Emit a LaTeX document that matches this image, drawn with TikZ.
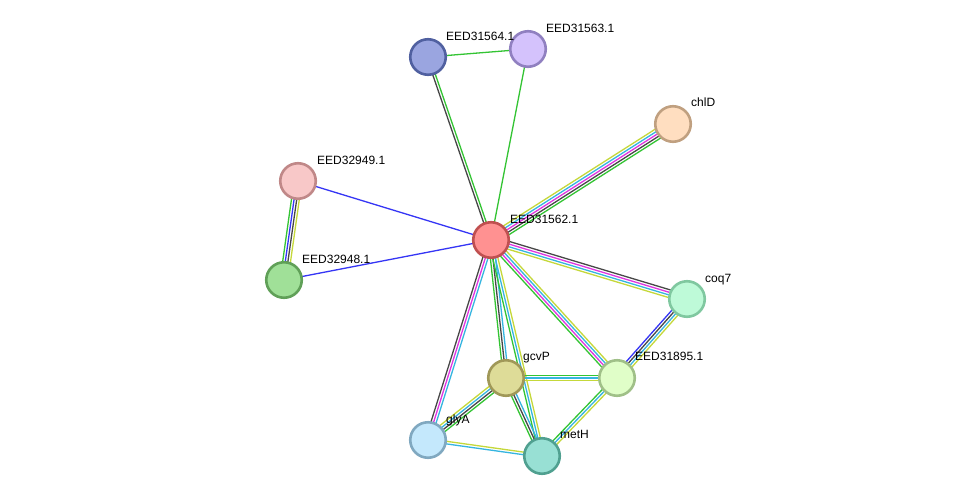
\documentclass[tikz,border=0pt]{standalone}
\usepackage{fontspec}
\setmainfont{Liberation Sans}
\usetikzlibrary{calc}
\pgfdeclarelayer{background}
\pgfsetlayers{background,main}
\definecolor{sgreen}{HTML}{33C433}
\definecolor{sblue}{HTML}{3535F5}
\definecolor{sdark}{HTML}{474747}
\definecolor{smag}{HTML}{E035E0}
\definecolor{scyan}{HTML}{35B5E0}
\definecolor{syel}{HTML}{C5D83A}
\tikzset{
  prot/.style={circle, minimum size=35.5pt, inner sep=0pt, line width=2.6pt},
  lbl/.style={anchor=base west, font=\fontsize{12}{14}\selectfont, inner sep=0pt},
  evid/.style={line width=1.3pt},
}
\newcommand\sedge[4]{%
  \foreach \c [count=\i] in {#4} {
    \pgfmathsetmacro\off{(\i-1-(#3-1)/2)*2.6}
    \draw[evid, \c] ($(#1)!\off pt!90:(#2)$) -- ($(#2)!\off pt!-90:(#1)$);
  }%
}
\begin{document}
\begin{tikzpicture}[x=1pt,y=1pt]
\useasboundingbox (0,0) rectangle (975,-501);
% nodes
\node[prot, draw={rgb,255:red,192;green,80;blue,80}, fill={rgb,255:red,255;green,145;blue,145}] (c) at (491,-240) {};
\node[prot, draw={rgb,255:red,80;green,96;blue,160}, fill={rgb,255:red,154;green,165;blue,224}] (e64) at (428,-57) {};
\node[prot, draw={rgb,255:red,144;green,128;blue,192}, fill={rgb,255:red,212;green,194;blue,252}] (e63) at (528,-49) {};
\node[prot, draw={rgb,255:red,192;green,160;blue,128}, fill={rgb,255:red,255;green,222;blue,192}] (chl) at (673,-124) {};
\node[prot, draw={rgb,255:red,192;green,136;blue,136}, fill={rgb,255:red,248;green,200;blue,200}] (e49) at (298,-181) {};
\node[prot, draw={rgb,255:red,96;green,160;blue,88}, fill={rgb,255:red,160;green,224;blue,152}] (e48) at (284,-280) {};
\node[prot, draw={rgb,255:red,128;green,200;blue,160}, fill={rgb,255:red,190;green,250;blue,216}] (coq) at (687,-299) {};
\node[prot, draw={rgb,255:red,160;green,192;blue,136}, fill={rgb,255:red,224;green,254;blue,200}] (e95) at (617,-378) {};
\node[prot, draw={rgb,255:red,160;green,152;blue,88}, fill={rgb,255:red,222;green,220;blue,152}] (gcv) at (506,-378) {};
\node[prot, draw={rgb,255:red,128;green,168;blue,192}, fill={rgb,255:red,196;green,232;blue,252}] (gly) at (428,-440) {};
\node[prot, draw={rgb,255:red,80;green,160;blue,144}, fill={rgb,255:red,152;green,224;blue,212}] (met) at (542,-456) {};
% labels
\node[lbl] (lc) at (510,-223) {EED31562.1};
\node[lbl] (l64) at (446,-40) {EED31564.1};
\node[lbl] (l63) at (546,-32) {EED31563.1};
\node[lbl] (lchl) at (691,-106) {chlD};
\node[lbl] (l49) at (317,-164) {EED32949.1};
\node[lbl] (l48) at (302,-263) {EED32948.1};
\node[lbl] (lcoq) at (705,-282) {coq7};
\node[lbl] (l95) at (635,-360) {EED31895.1};
\node[lbl] (lgcv) at (523,-360) {gcvP};
\node[lbl] (lgly) at (446,-423) {glyA};
\node[lbl] (lmet) at (560,-438) {metH};
% edges
\begin{pgfonlayer}{background}
\fill[white] (0,0) rectangle (975,-501);
\sedge{c}{e64}{2}{sgreen,sdark}
\sedge{c}{e63}{1}{sgreen}
\sedge{c}{chl}{5}{sgreen,sdark,smag,scyan,syel}
\sedge{c}{coq}{4}{syel,scyan,smag,sdark}
\sedge{c}{e95}{4}{sgreen,smag,scyan,syel}
\sedge{c}{gcv}{3}{sgreen,sdark,scyan}
\sedge{c}{met}{3}{sgreen,scyan,syel}
\sedge{c}{gly}{3}{sdark,smag,scyan}
\sedge{c}{e49}{1}{sblue}
\sedge{c}{e48}{1}{sblue}
\sedge{e49}{e48}{4}{sgreen,sblue,sdark,syel}
\sedge{e64}{e63}{1}{sgreen}
\sedge{coq}{e95}{4}{sblue,sdark,scyan,syel}
\sedge{gcv}{e95}{3}{syel,scyan,sgreen}
\sedge{gcv}{gly}{4}{syel,scyan,sdark,sgreen}
\sedge{gcv}{met}{3}{sgreen,sdark,scyan}
\sedge{e95}{met}{3}{sgreen,scyan,syel}
\sedge{gly}{met}{2}{scyan,syel}
\end{pgfonlayer}
\end{tikzpicture}
\end{document}
